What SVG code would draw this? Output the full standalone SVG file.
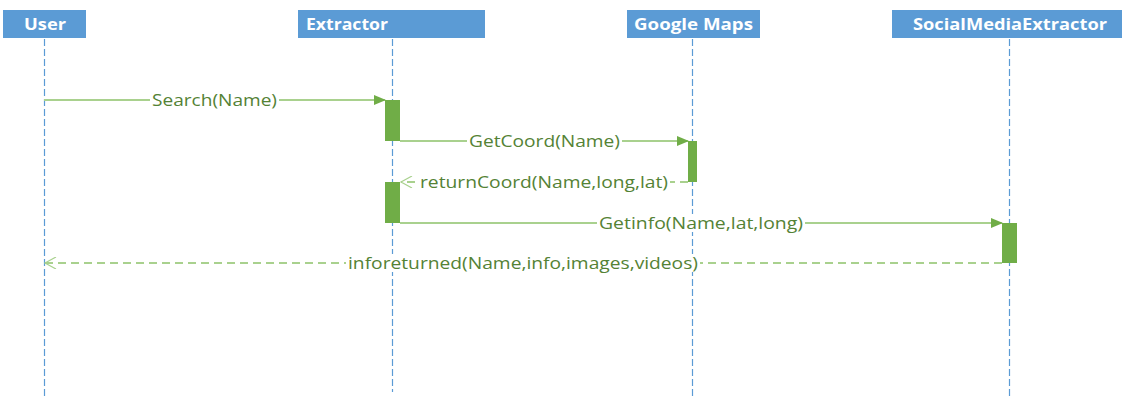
<svg xmlns="http://www.w3.org/2000/svg" width="1122" height="399" viewBox="0 0 1122 399">
<defs>
<style>
.hdr{fill:#5b9bd5}
.htx{font-family:"Open Sans","Liberation Sans",sans-serif;font-weight:bold;font-size:16px;fill:#ffffff}
.life{stroke:#5b9bd5;stroke-width:1.2;stroke-dasharray:7,3;fill:none}
.act{fill:#70ad47}
.msg{stroke:#a9d18e;stroke-width:2;fill:none}
.ret{stroke:#a9d18e;stroke-width:2;fill:none;stroke-dasharray:8,5}
.mtx{font-family:"Open Sans","Liberation Sans",sans-serif;font-size:16px;fill:#548235}
.bg{fill:#ffffff}
</style>
<marker id="fill" markerWidth="12" markerHeight="10" refX="11" refY="5" orient="auto" markerUnits="userSpaceOnUse">
<path d="M0,0 L12,5 L0,10 Z" fill="#70ad47"/>
</marker>
<marker id="open" markerWidth="14" markerHeight="12" refX="12" refY="6" orient="auto" markerUnits="userSpaceOnUse">
<path d="M1,0 L12,6 L1,12" fill="none" stroke="#a9d18e" stroke-width="1.2"/>
</marker>
</defs>
<rect width="1122" height="399" fill="#ffffff"/>
<g id="user">
<rect class="hdr" x="3" y="10" width="83" height="28"/>
<text class="htx" x="24" y="29.5" textLength="42" lengthAdjust="spacingAndGlyphs">User</text>
<line class="life" x1="44.5" y1="39" x2="44.5" y2="396"/>
</g>
<g id="extractor">
<rect class="hdr" x="298" y="10" width="187" height="28"/>
<text class="htx" x="306" y="29.5" textLength="82" lengthAdjust="spacingAndGlyphs">Extractor</text>
<line class="life" x1="392.5" y1="39" x2="392.5" y2="392"/>
<rect class="act" x="385" y="100" width="15" height="41"/>
<rect class="act" x="385" y="182" width="15" height="41"/>
</g>
<g id="googlemaps">
<rect class="hdr" x="627" y="10" width="133" height="28"/>
<text class="htx" x="634" y="29.5" textLength="119" lengthAdjust="spacingAndGlyphs">Google Maps</text>
<line class="life" x1="692.5" y1="39" x2="692.5" y2="399"/>
<rect class="act" x="688" y="141" width="9" height="41"/>
</g>
<g id="socialmediaextractor">
<rect class="hdr" x="892" y="10" width="230" height="28"/>
<text class="htx" x="913" y="29.5" textLength="194" lengthAdjust="spacingAndGlyphs">SocialMediaExtractor</text>
<line class="life" x1="1009.5" y1="39" x2="1009.5" y2="399"/>
<rect class="act" x="1002" y="223" width="15" height="40"/>
</g>
<g id="connectors">
<line class="msg" x1="44" y1="100" x2="385" y2="100" marker-end="url(#fill)"/>
<rect class="bg" x="150" y="91" width="129" height="18"/>
<text class="mtx" x="152" y="105.5" textLength="125" lengthAdjust="spacingAndGlyphs">Search(Name)</text>
<line class="msg" x1="400" y1="141" x2="688" y2="141" marker-end="url(#fill)"/>
<rect class="bg" x="467" y="132" width="155" height="18"/>
<text class="mtx" x="469" y="146.5" textLength="151" lengthAdjust="spacingAndGlyphs">GetCoord(Name)</text>
<line class="ret" x1="688" y1="182" x2="401" y2="182" marker-end="url(#open)"/>
<rect class="bg" x="418" y="173" width="252" height="18"/>
<text class="mtx" x="420" y="187.5" textLength="248" lengthAdjust="spacingAndGlyphs">returnCoord(Name,long,lat)</text>
<line class="msg" x1="400" y1="223" x2="1002" y2="223" marker-end="url(#fill)"/>
<rect class="bg" x="597" y="214" width="208" height="18"/>
<text class="mtx" x="599" y="228.5" textLength="204" lengthAdjust="spacingAndGlyphs">Getinfo(Name,lat,long)</text>
<line class="ret" x1="1002" y1="263" x2="45" y2="263" marker-end="url(#open)"/>
<rect class="bg" x="346" y="254" width="354" height="18"/>
<text class="mtx" x="348" y="268.5" textLength="350" lengthAdjust="spacingAndGlyphs">inforeturned(Name,info,images,videos)</text>
</g>
</svg>
